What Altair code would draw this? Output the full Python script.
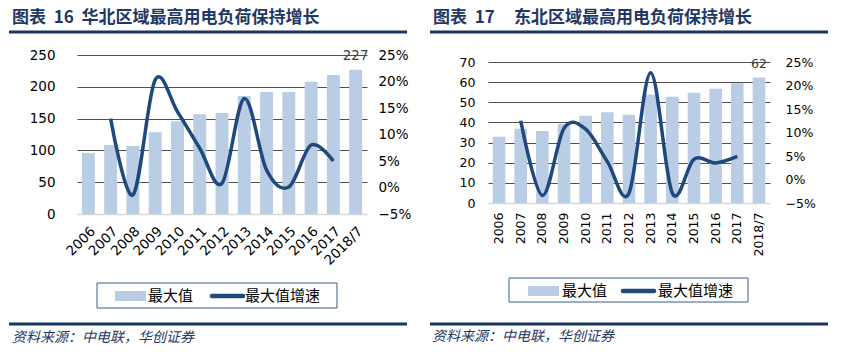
import altair as alt
import pandas as pd

years = ["2006", "2007", "2008", "2009", "2010", "2011", "2012",
         "2013", "2014", "2015", "2016", "2017", "2018/7"]
growth_years = years[1:12]

north_max = [96, 108.5, 107, 128.5, 146, 157, 159, 185.5, 191.8, 192, 208, 218.5, 227]
north_growth = [0.130, -0.014, 0.203, 0.143, 0.074, 0.008, 0.168, 0.033, 0.001, 0.080, 0.050]

ne_max = [32.9, 36.9, 35.7, 39.4, 43.3, 45.1, 43.8, 53.9, 52.7, 54.7, 56.7, 59.5, 62.3]
ne_growth = [0.125, -0.034, 0.109, 0.107, 0.038, -0.029, 0.227, -0.029, 0.043, 0.035, 0.049]

NB = "\u00a0"
titles = ["图表" + NB * 2 + "16" + NB * 2 + "华北区域最高用电负荷保持增长",
          "图表" + NB * 2 + "17" + NB * 5 + "东北区域最高用电负荷保持增长"]
last_labels = ["227", "62"]
legend_labels = ["最大值", "最大值增速"]
source_text = "资料来源：中电联，华创证券"

BAR = "#b9cde5"
LINE = "#1f497d"
NAVY = "#17375e"
FONT = "DejaVu Sans"
CJK = "Noto Sans CJK SC"
PCT = [-0.05, 0, 0.05, 0.1, 0.15, 0.2, 0.25]

one = pd.DataFrame({"k": [0]})


def vrect(x, x2, y, y2, **mk):
    return alt.Chart(one).mark_rect(**mk).encode(
        x=alt.value(x), x2=alt.value(x2), y=alt.value(y), y2=alt.value(y2))


def vrule(x, x2, y, **mk):
    return alt.Chart(one).mark_rule(**mk).encode(
        x=alt.value(x), x2=alt.value(x2), y=alt.value(y))


def vtext(x, y, t, **mk):
    return alt.Chart(one).mark_text(**mk).encode(
        x=alt.value(x), y=alt.value(y), text=alt.value(t))


def panel(vals, growth, title, lab, ymax, ystep, ytop, ptop, W, H, g, xangle, xpad, lsize):
    df_bar = pd.DataFrame({"year": years, "v": vals})
    df_lab = pd.DataFrame({"year": [years[-1]], "v": [vals[-1]], "t": [lab]})
    df_line = pd.DataFrame({"year": growth_years, "g": growth})

    xaxis = alt.Axis(title=None, labelAngle=xangle, labelFontSize=lsize,
                     labelFont=FONT, labelColor="#000", ticks=False,
                     domainColor="#d9d9d9", domainWidth=1.5,
                     labelPadding=xpad, labelOverlap=False)
    xscale = alt.Scale(paddingInner=0.42, paddingOuter=0.22)
    xenc = alt.X("year:N", sort=years, scale=xscale, axis=xaxis)
    grid_color = {"condition": {"test": "datum.value === 0", "value": "rgba(0,0,0,0)"},
                  "value": "#505050"}
    yaxis = alt.Axis(title=None, values=list(range(0, ymax + 1, ystep)),
                     grid=True, gridColor=grid_color, gridWidth=1,
                     domain=False, ticks=False, labelPadding=g["lpad"],
                     labelOverlap=False,
                     labelFontSize=lsize, labelFont=FONT, labelColor="#000")
    yscale = alt.Scale(domain=[0, ytop], nice=False, zero=True)
    bars = alt.Chart(df_bar).mark_bar(color=BAR).encode(
        x=xenc, y=alt.Y("v:Q", scale=yscale, axis=yaxis))
    label = alt.Chart(df_lab).mark_text(dy=g["ldy"], font=FONT, fontSize=lsize,
                                        color="#404040").encode(
        x=alt.X("year:N", sort=years, scale=xscale, axis=xaxis),
        y=alt.Y("v:Q", scale=yscale, axis=yaxis), text="t:N")
    inner = alt.layer(bars, label)
    line = alt.Chart(df_line).mark_line(color=LINE, strokeWidth=3.5,
                                        interpolate="cardinal", tension=0).encode(
        x=alt.X("year:N", sort=years),
        y=alt.Y("g:Q", scale=alt.Scale(domain=[-0.05, ptop], nice=False, zero=False),
                axis=alt.Axis(title=None, orient="right", values=PCT, format=".0%",
                              grid=False, domain=False, ticks=False, labelOverlap=False,
                              labelPadding=g["rpad"], labelFontSize=lsize,
                              labelFont=FONT, labelColor="#000")))

    bg = vrect(g["bx"], g["bx2"], g["by"], g["by2"], opacity=0)
    deco = [
        vtext(g["tx"], g["ty"], title, align="left", baseline="middle", font=CJK,
              fontSize=17, fontWeight="bold", color="#1f3864"),
        vrule(g["rx"], g["rx2"], g["ry"], color=NAVY, strokeWidth=3),
        vrect(g["lgx"], g["lgx2"], g["lgy"], g["lgy2"], fill="white",
              stroke="#385d8a", strokeWidth=1),
        vrect(g["sw1"], g["sw1"] + 31, g["lcy"] - 5, g["lcy"] + 5, color=BAR),
        vrule(g["sw2"], g["sw2"] + 31, g["lcy"], color=LINE, strokeWidth=4.5,
              strokeCap="round"),
        vtext(g["t1"], g["lcy"], legend_labels[0], align="left", baseline="middle",
              font=CJK, fontSize=15, color="#000"),
        vtext(g["t2"], g["lcy"], legend_labels[1], align="left", baseline="middle",
              font=CJK, fontSize=15, color="#000"),
        vrule(g["rx"], g["rx2"], g["r2y"], color=NAVY, strokeWidth=3),
        vtext(g["sx"], g["sy"], source_text, align="left", baseline="middle",
              font=CJK, fontSize=14, fontStyle="italic", color="#1f3864"),
    ]
    return alt.layer(bg, inner, line, *deco).resolve_scale(y="independent").properties(
        width=W, height=H)


# both panels' plot areas start at y=55; right panel's top 7px are empty scale room
g_left = dict(bx=-77, bx2=343, by=-55, by2=297, tx=-65, ty=-37, rx=-68, rx2=330,
              ry=-23, r2y=269, lgx=20, lgx2=260, lgy=228, lgy2=253, lcy=241,
              sw1=38, sw2=135, t1=71, t2=168, sx=-65, sy=283, lpad=22, rpad=11, ldy=-14)
g_right = dict(bx=-68, bx2=355, by=-55, by2=297, tx=-55, ty=-37, rx=-58, rx2=340,
               ry=-23, r2y=269, lgx=21, lgx2=260, lgy=223, lgy2=247, lcy=236,
               sw1=40, sw2=135, t1=74, t2=170, sx=-56, sy=282, lpad=13, rpad=15, ldy=-14)

left = panel(north_max, north_growth, titles[0], last_labels[0], 250, 50, 250, 0.25,
             290, 159, g_left, -45, 10, 13.5)
right = panel(ne_max, ne_growth, titles[1], last_labels[1], 70, 10, 70 * 148 / 141,
              -0.05 + 0.30 * 148 / 141, 282, 148, g_right, -90, 9, 12.5)

chart = alt.hconcat(left, right, spacing=0).properties(padding=0).configure_view(
    stroke=None)

chart.save("out.html", embed_options={"renderer": "svg", "actions": False})
